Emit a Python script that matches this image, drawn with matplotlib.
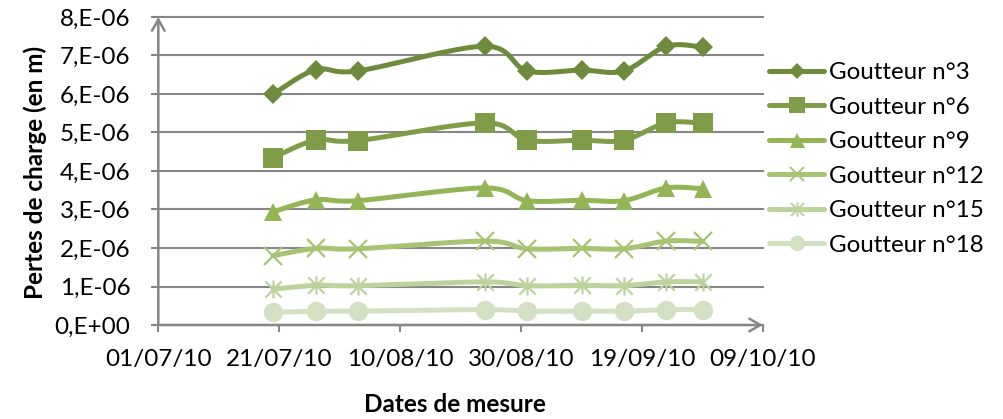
import datetime as dt
import numpy as np
import matplotlib
matplotlib.use('Agg')
import matplotlib.pyplot as plt
import matplotlib.dates as mdates
from matplotlib.lines import Line2D
from matplotlib.path import Path
from matplotlib.ticker import FuncFormatter

# Dates de mesure (2010)
dates = [dt.date(2010, 7, 20), dt.date(2010, 7, 27), dt.date(2010, 8, 3),
         dt.date(2010, 8, 24), dt.date(2010, 8, 31), dt.date(2010, 9, 9),
         dt.date(2010, 9, 16), dt.date(2010, 9, 23), dt.date(2010, 9, 29)]

# Pertes de charge (m) par goutteur
g3 = [6.00e-6, 6.63e-6, 6.60e-6, 7.24e-6, 6.60e-6, 6.62e-6, 6.60e-6, 7.24e-6, 7.22e-6]
g6 = [4.35e-6, 4.80e-6, 4.79e-6, 5.25e-6, 4.80e-6, 4.80e-6, 4.80e-6, 5.25e-6, 5.24e-6]
g9 = [2.94e-6, 3.25e-6, 3.23e-6, 3.56e-6, 3.23e-6, 3.24e-6, 3.23e-6, 3.56e-6, 3.54e-6]
g12 = [1.80e-6, 1.99e-6, 1.98e-6, 2.18e-6, 1.98e-6, 1.99e-6, 1.98e-6, 2.18e-6, 2.17e-6]
g15 = [0.93e-6, 1.03e-6, 1.02e-6, 1.12e-6, 1.02e-6, 1.03e-6, 1.02e-6, 1.12e-6, 1.12e-6]
g18 = [0.33e-6, 0.36e-6, 0.36e-6, 0.40e-6, 0.36e-6, 0.36e-6, 0.36e-6, 0.40e-6, 0.40e-6]

noms = ['Goutteur n°3', 'Goutteur n°6', 'Goutteur n°9',
        'Goutteur n°12', 'Goutteur n°15', 'Goutteur n°18']
series = [g3, g6, g9, g12, g15, g18]

couleurs = ['#6E8B3D', '#7F9D48', '#93B556', '#A6C474', '#BCD39D', '#D4E0C2']

# marqueur "étoile" d'Excel : croix + trait vertical
ETOILE = Path([(-0.5, -0.5), (0.5, 0.5), (-0.5, 0.5), (0.5, -0.5), (0, -0.55), (0, 0.55)],
              [Path.MOVETO, Path.LINETO, Path.MOVETO, Path.LINETO, Path.MOVETO, Path.LINETO])
marqueurs = [('D', 10.0), ('s', 14.0), ('^', 13.5), ('x', 13.0), (ETOILE, 13.0), ('o', 14.0)]

GRIS = '#868686'
plt.rcParams['font.family'] = ['Lato', 'DejaVu Sans']


def lissage(x, y, n=25):
    """Courbe lissée façon Excel (Bézier / Catmull-Rom)."""
    pts = np.column_stack([x, y])
    morceaux = []
    for i in range(len(pts) - 1):
        p0 = pts[i - 1] if i > 0 else pts[i]
        p1, p2 = pts[i], pts[i + 1]
        p3 = pts[i + 2] if i + 2 < len(pts) else pts[i + 1]
        c1 = p1 + (p2 - p0) / 6
        c2 = p2 - (p3 - p1) / 6
        t = np.linspace(0, 1, n)[:, None]
        seg = (1 - t) ** 3 * p1 + 3 * (1 - t) ** 2 * t * c1 + 3 * (1 - t) * t ** 2 * c2 + t ** 3 * p2
        morceaux.append(seg if i == 0 else seg[1:])
    return np.vstack(morceaux)


def fmt_sci(v, pos):
    if abs(v) < 1e-15:
        return '0,E+00'
    e = int(np.floor(np.log10(abs(v)) + 1e-9))
    m = round(v / 10 ** e)
    return f'{m},E{e:+03d}'


W, H = 1004, 419
fig = plt.figure(figsize=(W / 100, H / 100), dpi=100)
x0, x1, y0, y1 = 158.3, 763, 17, 325
ax = fig.add_axes([x0 / W, 1 - y1 / H, (x1 - x0) / W, (y1 - y0) / H])

xn = mdates.date2num(dates)
poignees = []
for vals, nom, c, (m, ms) in zip(series, noms, couleurs, marqueurs):
    courbe = lissage(xn, np.array(vals))
    ax.plot(courbe[:, 0], courbe[:, 1], color=c, lw=3.6, solid_capstyle='round', zorder=3)
    ligne_marq = m in ('x',) or isinstance(m, Path)
    ax.plot(xn, vals, ls='none', marker=m, ms=ms, color=c,
            mec=c, mew=1.6 if ligne_marq else 0, zorder=4)
    poignees.append(Line2D([], [], color=c, lw=3.6, marker=m, ms=ms * 0.8,
                           mec=c, mew=1.4 if ligne_marq else 0, solid_capstyle='round'))

ax.set_xlim(mdates.date2num(dt.date(2010, 7, 1)), mdates.date2num(dt.date(2010, 10, 9)))
ax.set_ylim(0, 8e-6)
ax.set_xticks(mdates.date2num([dt.date(2010, 7, 1) + dt.timedelta(days=20 * k) for k in range(6)]))
ax.xaxis.set_major_formatter(mdates.DateFormatter('%d/%m/%y'))
ax.set_yticks(np.arange(0, 9) * 1e-6)
ax.yaxis.set_major_formatter(FuncFormatter(fmt_sci))

for s in ax.spines.values():
    s.set_visible(False)
ax.grid(axis='y', color=GRIS, lw=1.5)
for gl in ax.get_ygridlines():
    gl.set_clip_on(False)
ax.set_axisbelow(True)
ax.tick_params(axis='both', colors=GRIS, width=1.5, length=5, labelsize=17.5,
               labelcolor='black')
ax.tick_params(axis='y', pad=15)
ax.tick_params(axis='x', pad=12)

# axes avec flèches
fleche = dict(arrowstyle='->,head_length=0.8,head_width=0.45', color=GRIS, lw=1.8,
              shrinkA=0, shrinkB=0)
ax.annotate('', xy=(1, 0), xytext=(0, 0), xycoords='axes fraction', arrowprops=fleche)
ax.annotate('', xy=(0, 1), xytext=(0, 0), xycoords='axes fraction', arrowprops=fleche)

fig.text(35 / W, 1 - 172 / H, 'Pertes de charge (en m)', rotation=90, ha='center',
         va='center', fontsize=17.5, fontweight='bold')
fig.text(455 / W, 1 - 404 / H, 'Dates de mesure', ha='center', va='center',
         fontsize=17.5, fontweight='bold')

fig.legend(poignees, noms, loc='upper left', bbox_to_anchor=(769 / W, 1 - 62 / H),
           frameon=False, fontsize=17.4, handlelength=2.28, handletextpad=0.2,
           labelspacing=0.56, borderaxespad=0, borderpad=0)

fig.savefig('out.png', dpi=100)
